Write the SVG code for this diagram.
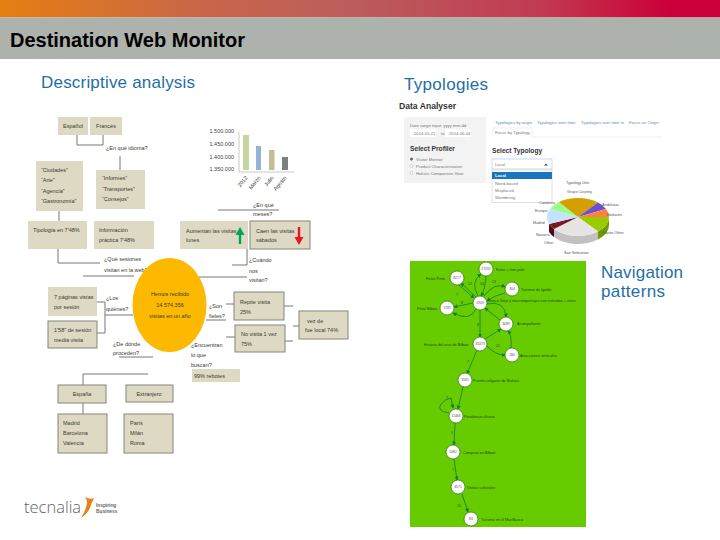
<svg xmlns="http://www.w3.org/2000/svg" width="720" height="540" viewBox="0 0 720 540">
<style>
text{font-family:"Liberation Sans",Arial,sans-serif}
.h{fill:#1f6ea6;font-size:17px}
.box{fill:#ddd9c3}
.bd{stroke:#85857a;stroke-width:1}
.t{font-size:5.5px;fill:#3a3a30}
.c{text-anchor:middle}
.ln{fill:none;stroke:#777;stroke-width:1}
.ax{fill:none;stroke:#bbb;stroke-width:.8}
.y{font-size:5.5px;fill:#444;text-anchor:end}
.ui{font-size:4.2px;fill:#777}
.tab{font-size:4.2px;fill:#5b8db8}
.pl{font-size:3.8px;fill:#555}
.sb{font-weight:bold;fill:#333}
.n circle{fill:#fff;stroke:#2f6b00;stroke-width:.7}
.n text{font-size:3.4px;fill:#555;text-anchor:middle}
.n text.nl{font-size:3.8px;fill:#1c4a00;text-anchor:start}
.e{fill:none;stroke:#0a7d3a;stroke-width:.8;marker-end:url(#ah)}
.el{font-size:3.6px;fill:#1c5a10;text-anchor:middle}
</style>
<defs>
<linearGradient id="top" x1="0" x2="1" y1="0" y2="0">
<stop offset="0" stop-color="#e67e10"/>
<stop offset=".28" stop-color="#c9664a"/>
<stop offset=".5" stop-color="#bc5c5c"/>
<stop offset=".75" stop-color="#c23a52"/>
<stop offset=".93" stop-color="#cb0038"/>
<stop offset="1" stop-color="#cb0038"/>
</linearGradient>
<marker id="ah" markerWidth="5" markerHeight="5" refX="3.5" refY="2" orient="auto" markerUnits="userSpaceOnUse"><path d="M0,0L4,2L0,4Z" fill="#0a7d3a"/></marker>
</defs>
<rect width="720" height="540" fill="#fff"/>
<rect width="720" height="17.500" fill="url(#top)"/>
<rect y="17.500" width="720" height="41.500" fill="#adb2ac"/>
<text x="10" y="47" font-size="20" font-weight="bold" fill="#000" textLength="235">Destination Web Monitor</text>
<text class="h" x="41" y="87.500" textLength="154">Descriptive analysis</text>
<text class="h" x="404" y="89.500" textLength="84">Typologies</text>
<text class="h" x="601" y="278" textLength="82">Navigation</text>
<text class="h" x="601" y="297" textLength="64">patterns</text>

<g id="connectors">
<path class="ln" d="M77,135V145H103V135"/>
<path class="ln" d="M120,156V170"/>
<path class="ln" d="M59,211V221"/>
<path class="ln" d="M58,249V263H100"/>
<path class="ln" d="M83,276H134"/>
<path class="ln" d="M218,210H279"/>
<path class="ln" d="M247,249V265H232"/>
<path class="ln" d="M199,277H247"/>
<path class="ln" d="M97,302H105V333H97"/>
<path class="ln" d="M105,315H133"/>
<path class="ln" d="M119,357H153"/>
<path class="ln" d="M148,374H83V385"/>
<path class="ln" d="M83,403V414"/>
<path class="ln" d="M206,320H226"/>
<path class="ln" d="M226,304H234M226,337H235"/>
<path class="ln" d="M284,306H293M285,341H293M293,326H299"/>
</g>

<g id="n-es"><rect class="box" x="58" y="117" width="30" height="18"/><text class="t c" x="73" y="128">Español</text></g>
<g id="n-fr"><rect class="box" x="90" y="117" width="32" height="18"/><text class="t c" x="106" y="128">Francés</text></g>
<text class="t" x="106" y="150">¿En qué idioma?</text>
<g id="n-ciudades"><rect class="box" x="36" y="161" width="47" height="50"/>
<text class="t" x="41" y="172">“Ciudades”</text><text class="t" x="41" y="182">“Arte”</text><text class="t" x="41" y="193">“Agencia”</text><text class="t" x="41" y="203">“Gastronomía”</text></g>
<g id="n-informes"><rect class="box" x="96" y="170" width="49" height="39"/>
<text class="t" x="102" y="180">“Informes”</text><text class="t" x="102" y="191">“Transportes”</text><text class="t" x="102" y="201">“Consejos”</text></g>
<g id="n-tipologia"><rect class="box" x="28" y="221" width="59" height="28"/><text class="t" x="33" y="232">Tipología en 7'48%</text></g>
<g id="n-info"><rect class="box" x="94" y="221" width="60" height="28"/><text class="t" x="99" y="232">Información</text><text class="t" x="99" y="242">práctica 7'48%</text></g>

<g id="chart">
<text class="y" x="234" y="133">1.500.000</text><text class="y" x="234" y="146">1.450.000</text><text class="y" x="234" y="159">1.400.000</text><text class="y" x="234" y="171">1.350.000</text>
<path class="ax" d="M239,132V172H294"/>
<rect x="243" y="135" width="6" height="35" fill="#c3d69b"/>
<rect x="256" y="146" width="5" height="24" fill="#95b3d7"/>
<rect x="269" y="150" width="5.500" height="20" fill="#c4bd97"/>
<rect x="282" y="157" width="6" height="13" fill="#7f7f7f"/>
<text class="t" text-anchor="end" transform="translate(248,178) rotate(-50)">2012</text>
<text class="t" text-anchor="end" transform="translate(261,178) rotate(-50)">Marzo</text>
<text class="t" text-anchor="end" transform="translate(274,178) rotate(-50)">Julio</text>
<text class="t" text-anchor="end" transform="translate(287,178) rotate(-50)">Agosto</text>
</g>
<text class="t" x="253" y="207">¿En qué</text><text class="t" x="253" y="216">meses?</text>
<g id="n-aumentan"><rect class="box" x="180" y="221" width="68" height="28"/>
<text class="t" x="186" y="232.500">Aumentan las visitas</text><text class="t" x="186" y="242">lunes</text>
<path d="M240,227L244.500,235H241.200V244H238.800V235H235.500Z" fill="#00a651"/></g>
<g id="n-caen"><rect class="box bd" x="250" y="221" width="60" height="28"/>
<text class="t" x="256" y="232.500">Caen las visitas</text><text class="t" x="256" y="242">sábados</text>
<path d="M299,245L294.500,237H297.800V227H300.200V237H303.500Z" fill="#e8161e"/></g>
<text class="t" x="249" y="262">¿Cuándo</text><text class="t" x="249" y="272.500">nos</text><text class="t" x="249" y="282">visitan?</text>
<text class="t" x="104" y="261">¿Qué sesiones</text><text class="t" x="104" y="272">visitan en la web?</text>

<g id="n-visitas"><ellipse cx="169.500" cy="305" rx="37" ry="47" fill="#fcb900"/>
<text class="t c" x="170" y="296">Hemos recibido</text><text class="t c" x="170" y="307">14.574.356</text><text class="t c" x="170" y="318">visitas en un año</text></g>
<g id="n-paginas"><rect class="box" x="48" y="287" width="49" height="29"/><text class="t" x="54" y="299">7 páginas vistas</text><text class="t" x="54" y="309">por sesión</text></g>
<g id="n-sesion"><rect class="box bd" x="48" y="321" width="49" height="27"/><text class="t" x="54" y="332">1'58" de sesión</text><text class="t" x="54" y="342">media visita</text></g>
<text class="t" x="106" y="300">¿Los</text><text class="t" x="106" y="310.500">quiénes?</text>
<text class="t" x="113" y="346">¿De dónde</text><text class="t" x="113" y="355">proceden?</text>
<text class="t" x="209" y="308">¿Son</text><text class="t" x="209" y="318">fieles?</text>
<g id="n-repite"><rect class="box bd" x="234" y="292" width="50" height="28"/><text class="t" x="240" y="304">Repite visita</text><text class="t" x="240" y="314">25%</text></g>
<g id="n-novisita"><rect class="box bd" x="235" y="325" width="50" height="27"/><text class="t" x="241" y="336">No visita 1 vez</text><text class="t" x="241" y="346">75%</text></g>
<g id="n-local"><rect class="box bd" x="299" y="311" width="49" height="28"/><text class="t" x="307" y="323">vez de</text><text class="t" x="305" y="332">fue local 74%</text></g>
<text class="t" x="191" y="347">¿Encuentran</text><text class="t" x="191" y="357">lo que</text><text class="t" x="191" y="367">buscan?</text>
<g id="n-rebotes"><rect class="box" x="192" y="369" width="48" height="13"/><text class="t" x="194" y="378">99% rebotes</text></g>
<g id="n-espana"><rect class="box bd" x="58" y="385" width="48" height="18"/><text class="t c" x="82" y="396">España</text></g>
<g id="n-extranjero"><rect class="box bd" x="126" y="385" width="47" height="17"/><text class="t c" x="149" y="396">Extranjero</text></g>
<g id="n-madrid"><rect class="box bd" x="58" y="414" width="49" height="39"/><text class="t" x="63" y="425">Madrid</text><text class="t" x="63" y="435">Barcelona</text><text class="t" x="63" y="445">Valencia</text></g>
<g id="n-paris"><rect class="box bd" x="124" y="414" width="49" height="39"/><text class="t" x="130" y="425">París</text><text class="t" x="130" y="435">Milán</text><text class="t" x="130" y="445">Roma</text></g>

<g id="logo">
<text x="24" y="513" font-size="16.500" style="font-family:'Open Sans',sans-serif;font-weight:300" fill="#5f6668">tecnalia</text>
<path d="M85,497Q90,500 94,498Q91,504 90,508Q87,514 81,518Q86,510 87,503Q87,499 85,497Z" fill="#e8811a"/>
<text x="96" y="507" font-size="4.800" font-weight="bold" fill="#666">Inspiring</text>
<text x="96" y="512.500" font-size="4.800" font-weight="bold" fill="#666">Business</text>
</g>

<g id="analyser">
<text x="399" y="109" font-size="8.600" font-weight="bold" fill="#333">Data Analyser</text>
<rect x="404" y="117" width="82" height="66" fill="#f3f3f3"/>
<text class="ui" x="410" y="126.500">Date range input: yyyy-mm-dd</text>
<rect x="410" y="129" width="26" height="8" fill="#fff"/><rect x="445" y="129" width="26" height="8" fill="#fff"/>
<text class="ui" x="414" y="134.500">2014-01-21</text><text class="ui" x="441" y="135">to</text><text class="ui" x="449" y="134.500">2014-06-04</text>
<text class="sb" x="410" y="151" font-size="6.700">Select Profiler</text>
<circle cx="411.500" cy="159" r="1.500" fill="#667"/><circle cx="411.500" cy="166" r="1.500" fill="#fff" stroke="#aaa" stroke-width=".5"/><circle cx="411.500" cy="173" r="1.500" fill="#fff" stroke="#aaa" stroke-width=".5"/>
<text class="ui" x="416" y="160.500">Visitor Monitor</text><text class="ui" x="416" y="167.500">Product Characterization</text><text class="ui" x="416" y="174.500">Holistic Comparison View</text>
<text class="tab" x="495" y="123.500">Typologies by origin</text><text class="tab" x="537" y="123.500">Typologies over time</text><text class="tab" x="581" y="123.500">Typologies over time in</text><text class="tab" x="629" y="123.500">Focus on Origin</text>
<path d="M493,137V128H532V137H662" fill="none" stroke="#e4e4e4" stroke-width=".6"/>
<text class="ui" x="495" y="133.500">Focus by Typology</text>
<text class="sb" x="492" y="153" font-size="6.600">Select Typology</text>
<rect x="492" y="159" width="60" height="10" fill="#fff" stroke="#a9cfee" stroke-width=".7"/>
<text class="ui" x="495" y="165.500">Local</text>
<path d="M544,165.500L546,163.500L548,165.500Z" fill="#444"/>
<rect x="492" y="170" width="60" height="32.500" fill="#fff" stroke="#ccc" stroke-width=".6"/>
<rect x="492" y="172" width="60" height="7" fill="#1b75bc"/>
<text x="495" y="177" font-size="4.200" font-weight="bold" fill="#fff">Local</text>
<text class="ui" x="495" y="184.500">Need-based</text><text class="ui" x="495" y="191.500">Misplaced</text><text class="ui" x="495" y="198.500">Wandering</text>
</g>
<g id="pie">
<path d="M609,217V225A31,19 0 0 1 598,239.500V231.500A31,19 0 0 0 609,217Z" fill="#6f9a00"/>
<path d="M598,231.500V239.500A31,19 0 0 1 554,237V229A31,19 0 0 0 598,231.500Z" fill="#c2c0c0"/>
<path d="M554,229V237A31,19 0 0 1 549,232V224A31,19 0 0 0 554,229Z" fill="#4b0d12"/>
<path d="M578,217L550,209A31,19 0 0 1 559,202Z" fill="#99ff88"/>
<path d="M578,217L559,202A31,19 0 0 1 598,202.500Z" fill="#d4a000"/>
<path d="M578,217L598,202.500A31,19 0 0 1 606,209Z" fill="#6a4fd0"/>
<path d="M578,217L606,209A31,19 0 0 1 609,217Z" fill="#ff8040"/>
<path d="M578,217L609,217A31,19 0 0 1 598,231.500Z" fill="#99cc00"/>
<path d="M578,217L598,231.500A31,19 0 0 1 554,229Z" fill="#e8e4e4"/>
<path d="M578,217L554,229A31,19 0 0 1 549,224Z" fill="#7a1a20"/>
<path d="M578,217L549,224A31,19 0 0 1 550,209Z" fill="#c6e2ff"/>
<text class="pl" x="566" y="183.500">Typology Unit</text><text class="pl" x="567" y="192.500">Grupo Country</text>
<text class="pl" x="539" y="203.500">Catalonia</text><text class="pl" x="535" y="211.500">Europa</text><text class="pl" x="533" y="223.500">Madrid</text><text class="pl" x="536" y="235.500">Navarra</text><text class="pl" x="544" y="243.500">Other</text><text class="pl" x="564" y="253.500">San Sebastian</text>
<text class="pl" x="602" y="205.500">Andalusia</text><text class="pl" x="607" y="215.500">Baleares</text><text class="pl" x="603" y="233.500">Gasto Other</text>
</g>

<rect x="410" y="261" width="176" height="266" fill="#66cc00"/>
<g id="graph-connectors">
<path class="e" d="M478,296Q470,282 481,274"/>
<path class="e" d="M486,276Q485,290 481,296"/>
<path class="e" d="M476,297L461,283"/>
<path class="e" d="M459,285L474,298"/>
<path class="e" d="M484,296Q495,282 505,287"/>
<path class="e" d="M505,293Q495,295 487,301"/>
<path class="e" d="M473,303L454,307"/>
<path class="e" d="M476,309Q470,322 453,313"/>
<path class="e" d="M487,304Q505,300 506,317"/>
<path class="e" d="M500,320L485,308"/>
<path class="e" d="M480,310V337"/>
<path class="e" d="M485,339L501,329"/>
<path class="e" d="M487,346Q495,355 505,355"/>
<path class="e" d="M511,348Q512,335 508,331"/>
<path class="e" d="M477,350L467,374"/>
<path class="e" d="M463,387L458,409"/>
<path class="e" d="M449,413Q436,411 441,404Q445,399 451,398L453,408"/>
<path class="e" d="M455,423L454,445"/>
<path class="e" d="M454,459L457,480"/>
<path class="e" d="M462,494L468,512"/>
</g>
<g id="graph-edge-labels">
<text class="el" x="470" y="285">12</text><text class="el" x="482" y="285">34</text><text class="el" x="494" y="283">13</text><text class="el" x="457" y="296">7</text><text class="el" x="462" y="304">8</text><text class="el" x="478" y="326">8</text><text class="el" x="498" y="347">21</text><text class="el" x="468" y="363">7</text><text class="el" x="452" y="434">9</text><text class="el" x="453" y="471">7</text><text class="el" x="459" y="507">20</text><text class="el" x="447" y="399">7</text>
</g>
<g id="g-a" class="n"><circle cx="486" cy="269" r="7"/><text x="486" y="270.200">27592</text><text class="nl" x="496" y="270.500">Fotos + iron pole</text></g>
<g id="g-b" class="n"><circle cx="457" cy="278" r="7"/><text x="457" y="279.200">8277</text><text class="nl" x="426" y="279.500">Fotos Pinto</text></g>
<g id="g-c" class="n"><circle cx="512" cy="289" r="7"/><text x="512" y="290.200">304</text><text class="nl" x="521" y="290.500">Turismo de Igeldo</text></g>
<g id="g-d" class="n"><circle cx="447" cy="308" r="7"/><text x="447" y="309.200">5785</text><text class="nl" x="417" y="309.500">Pinto Bilbao</text></g>
<g id="g-e" class="n"><circle cx="480" cy="303" r="7"/><text x="480" y="304.200">1909</text><text class="nl" x="488" y="301.500">Casco Viejo y macroreportajes con entradas + vinos</text></g>
<g id="g-f" class="n"><circle cx="506" cy="324" r="7"/><text x="506" y="325.200">3089</text><text class="nl" x="517" y="324.500">Acompañante</text></g>
<g id="g-g" class="n"><circle cx="480" cy="344" r="7"/><text x="480" y="345.200">35373</text><text class="nl" x="424" y="345.500">Historia del arco de Bilbao</text></g>
<g id="g-h" class="n"><circle cx="512" cy="355" r="7"/><text x="512" y="356.200">180</text><text class="nl" x="520" y="356.500">Atracciones verticales</text></g>
<g id="g-i" class="n"><circle cx="465" cy="380" r="7"/><text x="465" y="381.200">3581</text><text class="nl" x="473" y="381.500">Puente colgante de Bizkaia</text></g>
<g id="g-j" class="n"><circle cx="456" cy="416" r="7"/><text x="456" y="417.200">11468</text><text class="nl" x="464" y="417.500">Petrolerasculturas</text></g>
<g id="g-k" class="n"><circle cx="453" cy="452" r="7"/><text x="453" y="453.200">5482</text><text class="nl" x="463" y="453.500">Compras en Bilbao</text></g>
<g id="g-l" class="n"><circle cx="458" cy="487" r="7"/><text x="458" y="488.200">4571</text><text class="nl" x="467" y="488.500">Visitas culturales</text></g>
<g id="g-m" class="n"><circle cx="471" cy="519" r="7"/><text x="471" y="520.200">83</text><text class="nl" x="481" y="520.500">Turismo en el Mar/Basco</text></g>
</svg>
